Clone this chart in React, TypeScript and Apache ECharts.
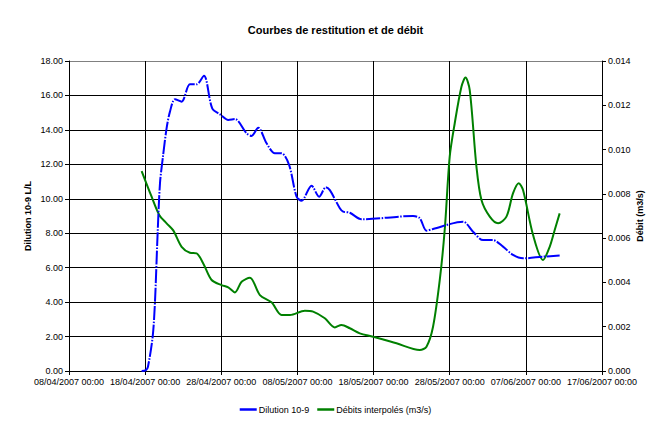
import React, { useEffect, useRef } from "react";
import * as echarts from "echarts";

const TITLE = "Courbes de restitution et de débit";
const START_DATE = Date.UTC(2007, 3, 8); // 08/04/2007 00:00
const X_MAX_DAYS = 70;
const X_INTERVAL_DAYS = 10;

// Dilution 10-9 (days since 08/04/2007, value in L/L)
const dilutionDays = [9.54, 10.1, 10.37, 10.99, 11.29, 11.64, 11.95, 12.34, 12.82, 13.26, 13.91, 14.79, 15.88, 16.76, 17.72, 18.81, 19.95, 20.91, 21.79, 23.32, 23.98, 24.85, 25.95, 27.04, 27.92, 28.91, 29.89, 30.54, 31.85, 32.85, 33.73, 34.26, 35.57, 36.0, 36.88, 38.42, 45.19, 46.07, 46.95, 47.81, 51.75, 53.06, 54.38, 55.69, 57.0, 58.31, 59.63, 62.25, 64.44];
const dilutionValues = [0, 0.05, 0.25, 2.0, 4.0, 8.0, 10.9, 12.45, 14.1, 15.06, 15.78, 15.64, 16.65, 16.65, 17.15, 15.25, 14.87, 14.58, 14.63, 13.8, 13.65, 14.13, 13.22, 12.64, 12.64, 11.96, 10.12, 9.89, 10.76, 10.12, 10.67, 10.5, 9.45, 9.25, 9.19, 8.81, 9.0, 8.87, 8.15, 8.25, 8.67, 8.09, 7.6, 7.6, 7.22, 6.74, 6.54, 6.64, 6.7];

// Débits interpolés (days since 08/04/2007, value in m3/s)
const debitDays = [9.54, 10.85, 11.85, 12.82, 13.69, 14.79, 15.88, 16.76, 17.63, 18.73, 20.04, 20.91, 21.79, 22.67, 23.76, 25.07, 26.6, 27.92, 29.01, 30.97, 32.06, 33.6, 34.91, 35.79, 36.88, 38.19, 39.94, 43.01, 46.07, 46.95, 47.81, 48.69, 49.35, 50.0, 50.66, 51.54, 52.07, 52.63, 53.51, 54.17, 55.26, 56.35, 57.45, 58.31, 59.06, 59.63, 60.94, 62.25, 63.13, 63.79, 64.44];
const debitValues = [0.00903, 0.00787, 0.00705, 0.00667, 0.00635, 0.00561, 0.00534, 0.00531, 0.00486, 0.00411, 0.00388, 0.00378, 0.00355, 0.00403, 0.00421, 0.00343, 0.0031, 0.00253, 0.00253, 0.00272, 0.00268, 0.00238, 0.00197, 0.00208, 0.00193, 0.0017, 0.00155, 0.00125, 0.00095, 0.0011, 0.002, 0.0041, 0.0064, 0.00968, 0.01119, 0.01284, 0.01325, 0.01269, 0.00923, 0.00772, 0.00697, 0.00667, 0.00697, 0.00802, 0.00848, 0.00817, 0.00615, 0.00501, 0.00561, 0.00637, 0.00712];

const SERIES_NAMES = ["Dilution 10-9", "Débits interpolés (m3/s)"];
const LEFT_AXIS_NAME = "Dilution 10-9 L/L";
const RIGHT_AXIS_NAME = "Débit (m3/s)";
const LEFT_MAX = 18;
const LEFT_INTERVAL = 2;
const RIGHT_MAX = 0.014;
const RIGHT_INTERVAL = 0.002;

const FONT = "Liberation Sans, Arial, sans-serif";

function pad(n: number) {
  return n < 10 ? "0" + n : String(n);
}
function formatDay(v: number) {
  const d = new Date(START_DATE + Math.round(v) * 86400000);
  return `${pad(d.getUTCDate())}/${pad(d.getUTCMonth() + 1)}/${d.getUTCFullYear()} 00:00`;
}

export default function App() {
  const ref = useRef<HTMLDivElement>(null);
  useEffect(() => {
    if (!ref.current) return;
    const chart = echarts.init(ref.current, undefined, { renderer: "svg" });
    const splitColors = [] as string[];
    for (let i = 0; i <= LEFT_MAX / LEFT_INTERVAL; i++) splitColors.push(i === LEFT_MAX / LEFT_INTERVAL ? "#808080" : "#000000");
    chart.setOption({
      animation: false,
      backgroundColor: "#ffffff",
      textStyle: { fontFamily: FONT },
      title: {
        text: TITLE,
        left: "center",
        top: 19,
        textStyle: { fontFamily: FONT, fontSize: 11, fontWeight: "bold", color: "#000" },
      },
      legend: {
        top: 400,
        left: "center",
        icon: "rect",
        itemWidth: 17,
        itemHeight: 2.5,
        itemGap: 8,
        textStyle: { fontFamily: FONT, fontSize: 9, color: "#000", padding: [0, 0, 0, -3] },
        data: SERIES_NAMES,
      },
      grid: { left: 69, right: 69, top: 61, bottom: 55 },
      xAxis: {
        type: "value",
        min: 0,
        max: X_MAX_DAYS,
        interval: X_INTERVAL_DAYS,
        axisLine: { lineStyle: { color: "#000", width: 1 } },
        axisTick: { lineStyle: { color: "#000" }, length: 4 },
        axisLabel: { formatter: formatDay, fontFamily: FONT, fontSize: 9, color: "#000", margin: 6, showMaxLabel: true, showMinLabel: true },
        splitLine: { show: true, lineStyle: { color: "#000", width: 1 } },
      },
      yAxis: [
        {
          type: "value",
          min: 0,
          max: LEFT_MAX,
          interval: LEFT_INTERVAL,
          position: "left",
          name: LEFT_AXIS_NAME,
          nameLocation: "middle",
          nameRotate: 90,
          nameGap: 37,
          nameMoveOverlap: false,
          nameTextStyle: { fontFamily: FONT, fontSize: 9, fontWeight: "bold", color: "#000" },
          axisLine: { show: true, lineStyle: { color: "#000" } },
          axisTick: { show: true, lineStyle: { color: "#000" }, length: 4 },
          axisLabel: { formatter: (v: number) => v.toFixed(2), fontFamily: FONT, fontSize: 9, color: "#000", margin: 6 },
          splitLine: { show: true, lineStyle: { color: splitColors, width: 1 } },
        },
        {
          type: "value",
          min: 0,
          max: RIGHT_MAX,
          interval: RIGHT_INTERVAL,
          position: "right",
          name: RIGHT_AXIS_NAME,
          nameLocation: "middle",
          nameRotate: 90,
          nameGap: 33,
          nameMoveOverlap: false,
          nameTextStyle: { fontFamily: FONT, fontSize: 9, fontWeight: "bold", color: "#000" },
          axisLine: { show: true, lineStyle: { color: "#000" } },
          axisTick: { show: true, lineStyle: { color: "#000" }, length: 4 },
          axisLabel: { formatter: (v: number) => v.toFixed(3), fontFamily: FONT, fontSize: 9, color: "#000", margin: 6 },
          splitLine: { show: false },
        },
      ],
      series: [
        {
          name: SERIES_NAMES[0],
          type: "line",
          yAxisIndex: 0,
          data: dilutionDays.map((d, i) => [d, dilutionValues[i]]),
          symbol: "none",
          smooth: 0.3,
          lineStyle: { color: "#0000ff", width: 2, type: [14, 1.5, 1.5, 1.5] },
          itemStyle: { color: "#0000ff" },
          z: 3,
        },
        {
          name: SERIES_NAMES[1],
          type: "line",
          yAxisIndex: 1,
          data: debitDays.map((d, i) => [d, debitValues[i]]),
          symbol: "none",
          smooth: 0.3,
          lineStyle: { color: "#008000", width: 2 },
          itemStyle: { color: "#008000" },
          z: 2,
        },
      ],
    });
    return () => chart.dispose();
  }, []);
  return <div ref={ref} style={{ width: 671, height: 426, position: "absolute", left: 0, top: 0 }} />;
}
